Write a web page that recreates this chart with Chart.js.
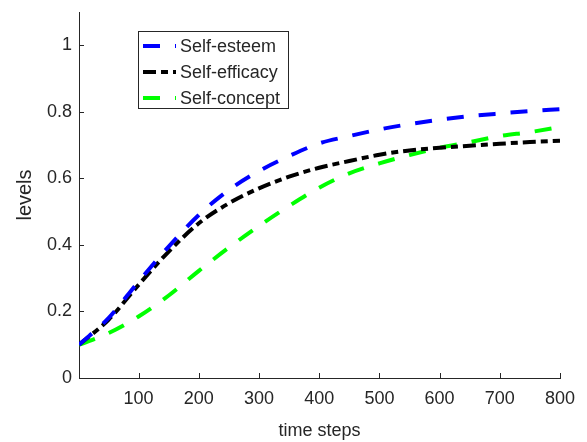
<!DOCTYPE html>
<html>
<head>
<meta charset="utf-8">
<script src="https://cdn.jsdelivr.net/npm/chart.js@4.4.0/dist/chart.umd.min.js"></script>
<style>
  html, body { margin: 0; padding: 0; background: #fff; }
  #myChart { display: block; }
</style>
</head>
<body>
<canvas id="myChart" width="587" height="442"></canvas>
<script>
// time steps sampled along the curves
const timeSteps = [1, 50, 100, 150, 200, 250, 300, 350, 400, 450, 500, 550, 600, 650, 700, 750, 800];

const selfEsteem   = [0.10, 0.18, 0.29, 0.395, 0.49, 0.565, 0.622, 0.667, 0.705, 0.727, 0.747, 0.763, 0.776, 0.787, 0.795, 0.802, 0.808];
const selfEfficacy = [0.10, 0.175, 0.28, 0.38, 0.465, 0.525, 0.57, 0.605, 0.632, 0.652, 0.671, 0.684, 0.692, 0.698, 0.704, 0.709, 0.713];
const selfConcept  = [0.10, 0.135, 0.185, 0.248, 0.322, 0.392, 0.457, 0.517, 0.572, 0.615, 0.645, 0.67, 0.692, 0.709, 0.727, 0.739, 0.754];

const xTickValues = [100, 200, 300, 400, 500, 600, 700, 800];
const yTickValues = [0, 0.2, 0.4, 0.6, 0.8, 1];

const textColor = '#262626';
const fontFamily = '"Liberation Sans", Arial, Helvetica, sans-serif';

function toPoints(values) {
    return values.map((v, i) => ({ x: timeSteps[i], y: v }));
}

// MATLAB style: tick marks pointing into the plot
const innerTicks = {
    id: 'innerTicks',
    afterDraw(chart) {
        const ctx = chart.ctx;
        const area = chart.chartArea;
        const xs = chart.scales.x;
        const ys = chart.scales.y;
        ctx.save();
        ctx.strokeStyle = textColor;
        ctx.lineWidth = 1;
        ctx.beginPath();
        xs.ticks.forEach((t) => {
            const px = Math.round(xs.getPixelForValue(t.value)) + 0.5;
            ctx.moveTo(px, area.bottom);
            ctx.lineTo(px, area.bottom - 5);
        });
        ys.ticks.forEach((t) => {
            const py = Math.round(ys.getPixelForValue(t.value)) + 0.5;
            ctx.moveTo(area.left, py);
            ctx.lineTo(area.left + 5, py);
        });
        ctx.stroke();
        ctx.restore();
    }
};

// boxed legend inside the axes
const boxLegend = {
    id: 'boxLegend',
    afterDraw(chart) {
        const ctx = chart.ctx;
        const left = 138, top = 31, width = 150, height = 77;
        ctx.save();
        ctx.fillStyle = '#fff';
        ctx.fillRect(left, top, width, height);
        ctx.strokeStyle = textColor;
        ctx.lineWidth = 1;
        ctx.strokeRect(left + 0.5, top + 0.5, width, height);
        ctx.font = '18px ' + fontFamily;
        ctx.textBaseline = 'middle';
        chart.data.datasets.forEach((ds, i) => {
            const y = top + 15 + i * 26;
            ctx.strokeStyle = ds.borderColor;
            ctx.lineWidth = ds.borderWidth;
            ctx.setLineDash(ds.borderDash);
            ctx.beginPath();
            ctx.moveTo(left + 5, y);
            ctx.lineTo(left + 38, y);
            ctx.stroke();
            ctx.setLineDash([]);
            ctx.fillStyle = textColor;
            ctx.fillText(ds.label, left + 42, y + 1);
        });
        ctx.restore();
    }
};

const ctx = document.getElementById('myChart').getContext('2d');
const chart = new Chart(ctx, {
    type: 'line',
    data: {
        datasets: [{
            label: 'Self-esteem',
            data: toPoints(selfEsteem),
            borderColor: '#0000ff',
            borderWidth: 4,
            borderDash: [17, 15],
            pointRadius: 0,
            cubicInterpolationMode: 'monotone',
            fill: false
        }, {
            label: 'Self-efficacy',
            data: toPoints(selfEfficacy),
            borderColor: '#000000',
            borderWidth: 4,
            borderDash: [13, 5, 7, 5],
            pointRadius: 0,
            cubicInterpolationMode: 'monotone',
            fill: false
        }, {
            label: 'Self-concept',
            data: toPoints(selfConcept),
            borderColor: '#00ff00',
            borderWidth: 4,
            borderDash: [17, 15],
            pointRadius: 0,
            cubicInterpolationMode: 'monotone',
            fill: false
        }]
    },
    options: {
        responsive: false,
        animation: false,
        events: [],
        layout: { padding: { top: 12, right: 27, left: 0, bottom: 0 } },
        plugins: {
            legend: { display: false },
            tooltip: { enabled: false }
        },
        scales: {
            x: {
                type: 'linear',
                min: 1,
                max: 800,
                afterFit: (scale) => {
                    scale.height = 64;
                    scale.paddingLeft = 0;
                    scale.paddingRight = 0;
                },
                afterBuildTicks: (scale) => {
                    scale.ticks = xTickValues.map((v) => ({ value: v }));
                },
                grid: { drawOnChartArea: false, drawTicks: false },
                border: { display: true, color: textColor, width: 1 },
                ticks: {
                    color: textColor,
                    padding: 10,
                    maxRotation: 0,
                    autoSkip: false,
                    font: { family: fontFamily, size: 18 }
                },
                title: {
                    display: true,
                    text: 'time steps',
                    color: textColor,
                    padding: { top: 0, bottom: 0 },
                    font: { family: fontFamily, size: 18 }
                }
            },
            y: {
                type: 'linear',
                min: 0,
                max: 1.1,
                afterFit: (scale) => {
                    scale.width = 79;
                    scale.paddingTop = 0;
                    scale.paddingBottom = 0;
                },
                afterBuildTicks: (scale) => {
                    scale.ticks = yTickValues.map((v) => ({ value: v }));
                },
                grid: { drawOnChartArea: false, drawTicks: false },
                border: { display: true, color: textColor, width: 1 },
                ticks: {
                    color: textColor,
                    padding: 7,
                    autoSkip: false,
                    font: { family: fontFamily, size: 18 },
                    callback: (v) => String(Math.round(v * 10) / 10)
                },
                title: {
                    display: true,
                    text: 'levels',
                    color: textColor,
                    padding: { top: 13, bottom: 0 },
                    font: { family: fontFamily, size: 20 }
                }
            }
        }
    },
    plugins: [innerTicks, boxLegend]
});
</script>
</body>
</html>
